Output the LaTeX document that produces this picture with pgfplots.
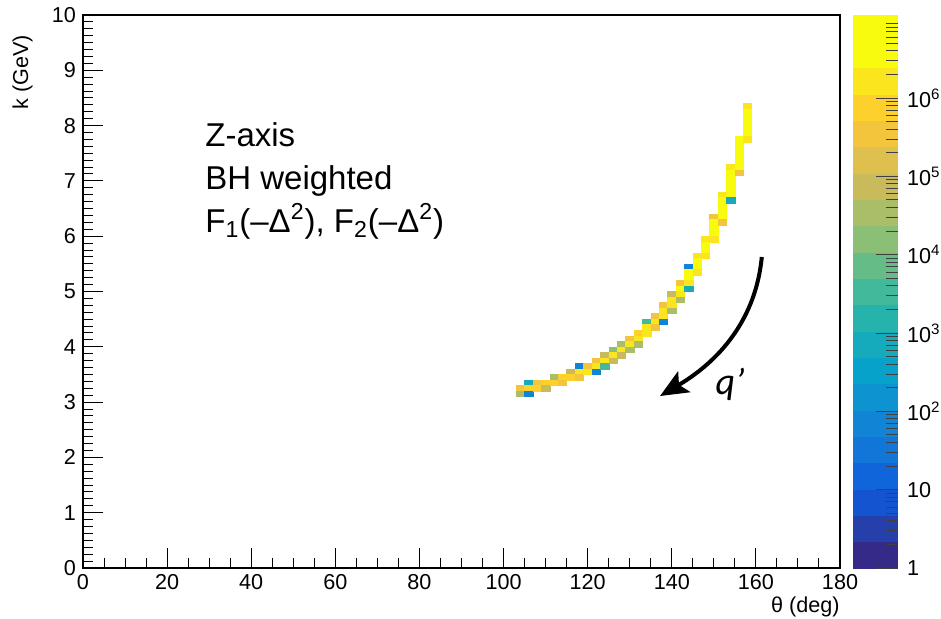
\documentclass[border=0pt]{standalone}
\usepackage{fontspec}
\setmainfont{Liberation Sans}
\newfontfamily\qfont{Carlito}
\usepackage{pgfplots}
\pgfplotsset{compat=1.18}
\usetikzlibrary{arrows.meta}
\pgfdeclareplotmark{cell}{%
  \pgfpathrectangle{\pgfqpoint{-2.103pt}{-1.383pt}}{\pgfqpoint{4.206pt}{2.765pt}}%
  \pgfusepathqfillstroke}
\pgfplotsset{
  colormap={kbird}{
    rgb=(0.2082,0.1664,0.5293) rgb=(0.1455,0.2479,0.6721) rgb=(0.0827,0.3293,0.8148)
    rgb=(0.0641,0.3978,0.8605) rgb=(0.0721,0.4585,0.8479) rgb=(0.0722,0.5186,0.8336)
    rgb=(0.0492,0.5766,0.8137) rgb=(0.0261,0.6346,0.7939) rgb=(0.0810,0.6698,0.7366)
    rgb=(0.1471,0.7018,0.6739) rgb=(0.2540,0.7244,0.6053) rgb=(0.4013,0.7376,0.5311)
    rgb=(0.5454,0.7483,0.4600) rgb=(0.6669,0.7414,0.4111) rgb=(0.7883,0.7345,0.3621)
    rgb=(0.8745,0.7497,0.3015) rgb=(0.9490,0.7722,0.2371) rgb=(0.9926,0.8173,0.1742)
    rgb=(0.9845,0.9003,0.1141) rgb=(0.9764,0.9832,0.0539) rgb=(0.9764,0.9832,0.0539)
  }
}
\begin{document}
\begin{tikzpicture}
\begin{axis}[
  name=main,
  scale only axis,
  width=378.5pt, height=276.5pt,
  xmin=0, xmax=180, ymin=0, ymax=10,
  xtick={0,20,...,180}, ytick={0,1,...,10},
  minor x tick num=3, minor y tick num=7,
  tick align=inside,
  xtick pos=left, ytick pos=left,
  major tick length=10pt, minor tick length=5pt,
  axis line style={line width=0.7pt},
  tick style={line width=0.5pt, black},
  /pgf/number format/assume math mode=true,
  tick label style={font=\fontsize{10.8}{12}\selectfont},
  xticklabel style={yshift=0.5pt},
  every axis x label/.style={at={(axis description cs:1,0)}, anchor=north east, yshift=-14pt, inner sep=0pt},
  every axis y label/.style={at={(axis description cs:-0.066,0.964)}, rotate=90, anchor=south east, inner sep=0pt},
  label style={font=\fontsize{10.8}{12}\selectfont},
  xlabel={θ (deg)},
  ylabel={k (GeV)},
  colormap name=kbird,
  colormap access=piecewise constant,
  point meta min=0, point meta max=7.06,
  colorbar,
  colorbar style={
    at={(parent axis.north east)}, anchor=north west, xshift=-2pt,
    width=22.5pt,
    ytick={0,1,2,3,4,5,6},
    yticklabels={1,10,10\textsuperscript{2},10\textsuperscript{3},10\textsuperscript{4},10\textsuperscript{5},10\textsuperscript{6}},
    minor ytick={0.301,0.477,0.602,0.699,0.778,0.845,0.903,0.954,
                 1.301,1.477,1.602,1.699,1.778,1.845,1.903,1.954,
                 2.301,2.477,2.602,2.699,2.778,2.845,2.903,2.954,
                 3.301,3.477,3.602,3.699,3.778,3.845,3.903,3.954,
                 4.301,4.477,4.602,4.699,4.778,4.845,4.903,4.954,
                 5.301,5.477,5.602,5.699,5.778,5.845,5.903,5.954,
                 6.301,6.477,6.602,6.699,6.778,6.845,6.903,6.954},
    ytick pos=right, yticklabel pos=right,
    tick align=inside,
    major tick length=11pt, minor tick length=6pt,
    tick style={line width=0.5pt, black!75},
    axis line style={draw=none},
    yticklabel style={font=\fontsize{10.8}{12}\selectfont, xshift=1pt},
  },
]
\addplot[scatter, only marks, mark=cell,
  scatter/use mapped color={draw=mapped color, fill=mapped color},
  mark options={line width=0.2pt},
  point meta={ln(\thisrow{z})/ln(10)}]
  table[x=x, y=y] {
x y z
104 3.25 3e5
104 3.15 2.5e4
106 3.35 500
106 3.25 7e5
106 3.15 50
108 3.35 3e5
108 3.25 7e5
110 3.35 7e5
110 3.25 6e4
112 3.45 2.5e4
112 3.35 7e5
114 3.45 7e5
114 3.35 3e5
116 3.55 6e4
116 3.45 7e5
118 3.65 50
118 3.55 1.5e6
118 3.45 3e5
120 3.65 3e5
120 3.55 1.5e6
122 3.75 3e5
122 3.65 1.5e6
122 3.55 50
124 3.85 6e4
124 3.75 1.5e6
124 3.65 2.5e3
126 3.95 1.2e4
126 3.85 1.5e6
126 3.75 6e4
128 4.05 2.5e4
128 3.95 1.5e6
128 3.85 6e4
130 4.15 3e5
130 4.05 1.5e6
130 3.95 2.5e4
132 4.25 7e5
132 4.15 1.5e6
132 4.05 2.5e4
134 4.45 2.5e3
134 4.35 1.5e6
134 4.25 1.5e6
136 4.55 3e5
136 4.45 1.5e6
136 4.35 3e5
138 4.75 3e5
138 4.65 1.5e6
138 4.55 1.5e6
138 4.45 50
140 4.95 6e4
140 4.85 1.5e6
140 4.75 1.5e6
140 4.65 2.5e4
142 5.15 3e5
142 5.05 3.5e6
142 4.95 1.5e6
142 4.85 2.5e4
144 5.45 50
144 5.35 3.5e6
144 5.25 3.5e6
144 5.15 1.5e6
144 5.05 500
146 5.65 1.5e6
146 5.55 3.5e6
146 5.45 3.5e6
146 5.35 1.5e6
148 5.95 1.5e6
148 5.85 3.5e6
148 5.75 3.5e6
148 5.65 1.5e6
150 6.35 3e5
150 6.25 8e6
150 6.15 8e6
150 6.05 8e6
150 5.95 1.5e6
152 6.75 1.5e6
152 6.65 8e6
152 6.55 8e6
152 6.45 8e6
152 6.35 8e6
152 6.25 3e5
154 7.25 1.5e6
154 7.15 8e6
154 7.05 8e6
154 6.95 8e6
154 6.85 8e6
154 6.75 8e6
154 6.65 500
156 7.75 8e6
156 7.65 8e6
156 7.55 8e6
156 7.45 8e6
156 7.35 8e6
156 7.25 8e6
156 7.15 3e5
158 8.35 1.5e6
158 8.25 8e6
158 8.15 8e6
158 8.05 8e6
158 7.95 8e6
158 7.85 8e6
158 7.75 1.5e6
};
\node[anchor=north west, align=left, inner sep=0pt, font=\fontsize{16.5}{21.5}\selectfont]
  at (axis cs:29.0,8.065)
  {Z-axis\\BH weighted\\F\textsubscript{1}(–Δ\textsuperscript{2}), F\textsubscript{2}(–Δ\textsuperscript{2})};
\draw[line width=2pt, -{Stealth[length=14pt, width=12pt, inset=3pt]}]
  (axis cs:161.4,5.624) .. controls (axis cs:159.8,4.358) and (axis cs:149.3,3.653) .. (axis cs:137.2,3.110);
\node[anchor=base west, inner sep=0pt, font=\qfont\itshape\fontsize{19}{22}\selectfont]
  at (axis cs:150.3,3.13) {q’};
\end{axis}
\pgfresetboundingbox
\path[use as bounding box] ([shift={(-41.5pt,-25pt)}]main.south west) rectangle ([shift={(50.5pt,7.5pt)}]main.north east);
\end{tikzpicture}
\end{document}
